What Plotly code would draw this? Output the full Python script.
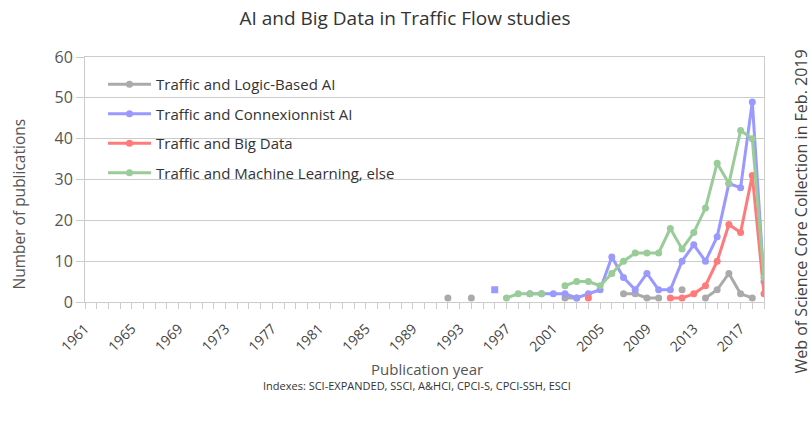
import plotly.graph_objects as go

# Data years (values before 1992 are empty)
data_years = list(range(1992, 2020))
axis_start, axis_end = 1961, 2019
tick_years = list(range(1961, 2019, 4))

N = None
logic_ai = [1, N, 1, N, N, N, N, N, N, N, 1, 1, N, N, N, 2, 2, 1, 1, N, 3, N, 1, 3, 7, 2, 1, N]
connex_ai = [N, N, N, N, 3, N, N, 2, 2, 2, 2, 1, 2, 3, 11, 6, 3, 7, 3, 3, 10, 14, 10, 16, 29, 28, 49, 5]
big_data = [N, N, N, N, N, N, N, N, N, N, N, N, 1, N, N, N, N, N, N, 1, 1, 2, 4, 10, 19, 17, 31, 2]
ml_else = [N, N, N, N, N, 1, 2, 2, 2, N, 4, 5, 5, 4, 7, 10, 12, 12, 12, 18, 13, 17, 23, 34, 29, 42, 40, 6]

series_names = [
    "Traffic and Logic-Based AI",
    "Traffic and Connexionnist AI",
    "Traffic and Big Data",
    "Traffic and Machine Learning, else",
]
series_values = [logic_ai, connex_ai, big_data, ml_else]
series_colors = ["#aaaaaa", "#9999ff", "#ff7a7a", "#99cc99"]

FONT = "Open Sans"

fig = go.Figure()
for name, vals, col in zip(series_names, series_values, series_colors):
    symbols = ["circle"] * len(vals)
    if name == "Traffic and Connexionnist AI":
        symbols[data_years.index(1996)] = "square"
    fig.add_trace(go.Scatter(
        x=data_years, y=vals, name=name, mode="lines+markers",
        line=dict(color=col, width=3),
        marker=dict(color=col, size=7, symbol=symbols),
        connectgaps=False, legendgroup=name,
    ))

fig.update_layout(
    width=810, height=421,
    margin=dict(l=85, r=46, t=57, b=119, autoexpand=False),
    paper_bgcolor="white", plot_bgcolor="white",
    font=dict(family=FONT, color="#444444"),
    title=dict(text="AI and Big Data in Traffic Flow studies",
               x=0.5, xanchor="center", y=0.957, yanchor="middle",
               font=dict(size=19, color="#333333", family=FONT)),
    showlegend=True,
    legend=dict(x=0.0265, y=0.955, xanchor="left", yanchor="top",
                bgcolor="rgba(0,0,0,0)", font=dict(size=15, color="#333333"),
                tracegroupgap=7, itemclick=False, itemwidth=43),
    xaxis=dict(range=[axis_start, axis_end], tickmode="array", tickvals=tick_years,
               ticktext=[str(y) for y in tick_years], tickangle=-45,
               tickfont=dict(size=14, color="#444444"), ticklabelstandoff=6,
               showgrid=False, zeroline=False, automargin=False,
               showline=True, linecolor="#cccccc", linewidth=1, mirror=True,
               ticks="outside", ticklen=6, tickcolor="#cccccc",
               minor=dict(dtick=1, ticks="outside", ticklen=6, tickcolor="#cccccc", showgrid=False)),
    yaxis=dict(range=[0, 60], tickvals=[0, 10, 20, 30, 40, 50, 60],
               tickfont=dict(size=16, color="#555555"), automargin=False,
               showgrid=True, gridcolor="#cccccc", gridwidth=1, zeroline=False,
               showline=True, linecolor="#cccccc", linewidth=1, mirror=True,
               ticks="outside", ticklen=8, tickcolor="#cccccc"),
)

fig.add_annotation(text="Number of publications", xref="paper", yref="paper",
                   x=0, xshift=-67, y=0.5, yshift=-25, textangle=-90, showarrow=False,
                   xanchor="center", yanchor="middle",
                   font=dict(size=15.5, color="#555555", family=FONT))
fig.add_annotation(text="Publication year", xref="paper", yref="paper",
                   x=0.5, xshift=2, y=0, yshift=-67, showarrow=False,
                   xanchor="center", yanchor="middle",
                   font=dict(size=15, color="#555555", family=FONT))
fig.add_annotation(text="Web of Science Core Collection in Feb. 2019",
                   xref="paper", yref="paper", x=1.0, xshift=36, y=0.5, yshift=-32,
                   textangle=-90, showarrow=False, xanchor="center", yanchor="middle",
                   font=dict(size=16, color="#444444", family=FONT))
fig.add_annotation(text="Indexes: SCI-EXPANDED, SSCI, A&HCI, CPCI-S, CPCI-SSH, ESCI",
                   xref="paper", yref="paper", x=0.5, xshift=-8, y=0, yshift=-83,
                   showarrow=False, xanchor="center", yanchor="middle",
                   font=dict(size=11, color="#333333", family=FONT))

fig.write_html("out.html", config={"displayModeBar": False},
               post_script="document.body.style.margin='0';document.body.style.overflow='hidden';")
